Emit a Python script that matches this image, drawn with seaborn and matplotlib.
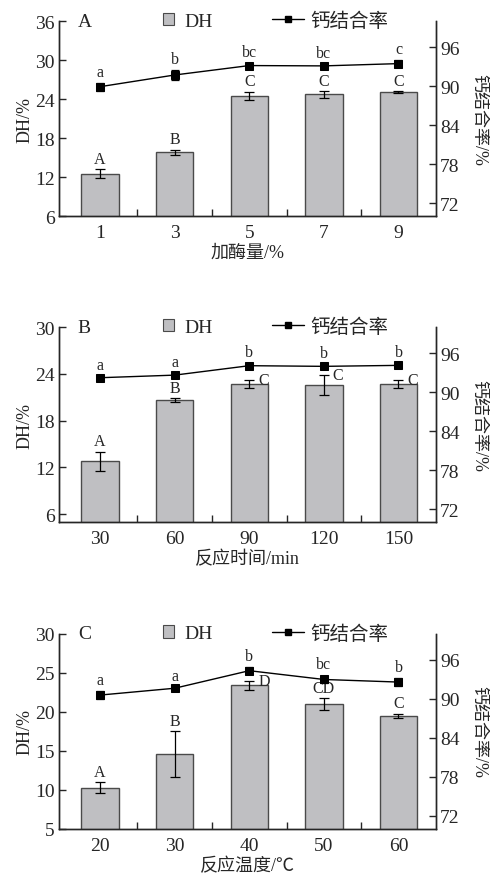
import matplotlib
matplotlib.use("Agg")
import matplotlib.pyplot as plt
import seaborn as sns
import pandas as pd
from matplotlib.lines import Line2D
from matplotlib.patches import Patch
from matplotlib.ticker import FixedLocator

# panel A: enzyme dosage
dose = ["1", "3", "5", "7", "9"]
dh_a = [12.5, 15.8, 24.5, 24.7, 25.1]
dh_a_err = [0.7, 0.4, 0.65, 0.55, 0.1]
ca_a = [89.9, 91.7, 93.15, 93.1, 93.45]
ca_a_err = [0.6, 0.8, 0.3, 0.2, 0.5]
up_a = ["A", "B", "C", "C", "C"]
low_a = ["a", "b", "bc", "bc", "c"]

# panel B: reaction time
time_min = ["30", "60", "90", "120", "150"]
dh_b = [12.8, 20.6, 22.7, 22.6, 22.7]
dh_b_err = [1.2, 0.25, 0.55, 1.3, 0.5]
ca_b = [92.2, 92.6, 94.05, 93.95, 94.1]
ca_b_err = [0.3, 0.3, 0.4, 0.3, 0.3]
up_b = ["A", "B", "C", "C", "C"]
low_b = ["a", "a", "b", "b", "b"]

# panel C: reaction temperature
temp = ["20", "30", "40", "50", "60"]
dh_c = [10.3, 14.6, 23.4, 21.0, 19.5]
dh_c_err = [0.7, 2.95, 0.55, 0.75, 0.3]
ca_c = [90.6, 91.65, 94.35, 93.0, 92.6]
ca_c_err = [0.6, 0.2, 0.5, 0.6, 0.6]
up_c = ["A", "B", "D", "CD", "C"]
low_c = ["a", "a", "b", "bc", "b"]

sns.set_style("ticks")
plt.rcParams["font.family"] = ["Liberation Serif", "Noto Sans CJK SC"]
plt.rcParams["axes.linewidth"] = 1.0

BAR = "#bfbfc2"
EDGE = "#4a4a4a"

panels = [
    ("A", dose, dh_a, dh_a_err, ca_a, ca_a_err, up_a, low_a, "加酶量/%",
     (6, 36), [6, 12, 18, 24, 30, 36], [0, 0, 0, 0, 0]),
    ("B", time_min, dh_b, dh_b_err, ca_b, ca_b_err, up_b, low_b, "反应时间/min",
     (5, 30), [6, 12, 18, 24, 30], [0, 0, 1, 1, 1]),
    ("C", temp, dh_c, dh_c_err, ca_c, ca_c_err, up_c, low_c, "反应温度/℃",
     (5, 30), [5, 10, 15, 20, 25, 30], [0, 0, 1, 0, 0]),
]
bottoms = [0.7528, 0.4043, 0.0547]

fig = plt.figure(figsize=(4.9, 8.78), dpi=100)

for (tag, cats, dh, dh_err, ca, ca_err, up, low, xlab, ylim, yticks, side), b in zip(panels, bottoms):
    ax = fig.add_axes([0.1204, b, 0.769, 0.2221])
    df = pd.DataFrame({"x": cats, "dh": dh})
    sns.barplot(data=df, x="x", y="dh", color=BAR, edgecolor=EDGE, linewidth=1.0,
                width=0.5, saturation=1, ax=ax)
    xs = list(range(len(cats)))
    ax.errorbar(xs, dh, yerr=dh_err, fmt="none", ecolor="black", elinewidth=0.9,
                capsize=3.5, capthick=0.9, zorder=3)
    ax.set_ylim(*ylim)
    ax.set_yticks(yticks)
    span = ylim[1] - ylim[0]
    for i in xs:
        top = dh[i] + dh_err[i]
        if side[i]:
            ax.text(i + 0.12, top, up[i], ha="left", va="center", fontsize=11.5)
        else:
            ax.text(i, top + span * 0.012, up[i], ha="center", va="bottom", fontsize=11.5)

    ax2 = ax.twinx()
    dl = pd.DataFrame({"x": cats, "ca": ca})
    sns.pointplot(data=dl, x="x", y="ca", color="black", markers="s", markersize=6,
                  linewidth=1.0, ax=ax2)
    ax2.errorbar(xs, ca, yerr=ca_err, fmt="none", ecolor="black", elinewidth=0.9,
                 capsize=3, capthick=0.9, zorder=3)
    ax2.set_ylim(70, 100)
    ax2.set_yticks([72, 78, 84, 90, 96])
    for i in xs:
        ax2.text(i, ca[i] + ca_err[i] + 0.5, low[i], ha="center", va="bottom", fontsize=11.5)

    for a in (ax, ax2):
        a.set_xlim(-0.55, 4.5)
        a.spines["top"].set_visible(False)
    ax2.spines["right"].set_visible(True)

    ax.set_xticks(xs)
    ax.set_xticklabels(cats)
    ax.xaxis.set_minor_locator(FixedLocator([0.5, 1.5, 2.5, 3.5]))
    ax.tick_params(axis="x", which="major", length=0, labelsize=14, pad=6)
    ax.tick_params(axis="x", which="minor", direction="in", length=5, width=1)
    ax.tick_params(axis="y", direction="in", length=5, width=1, labelsize=14, pad=3)
    ax2.tick_params(axis="y", direction="in", length=5, width=1, labelsize=14, pad=3)
    ax.set_xlabel(xlab, fontsize=13, labelpad=2)
    ax.set_ylabel("DH/%", fontsize=13, labelpad=1)
    ax2.set_ylabel("钙结合率/%", fontsize=13, rotation=-90, labelpad=20)

    ax.text(0.05, 1.0, tag, transform=ax.transAxes, ha="left", va="center", fontsize=14)
    leg1 = ax2.legend([Patch(facecolor=BAR, edgecolor=EDGE, linewidth=0.8)], ["DH"],
                      loc="center left", bbox_to_anchor=(0.275, 1.0), frameon=False,
                      fontsize=14, handlelength=0.6, handleheight=0.6, handletextpad=0.5,
                      borderpad=0, borderaxespad=0)
    ax2.add_artist(leg1)
    ax2.legend([Line2D([0], [0], color="black", lw=1, marker="s", markersize=5)], ["钙结合率"],
               loc="center left", bbox_to_anchor=(0.565, 1.0), frameon=False,
               fontsize=14, handlelength=1.65, handletextpad=0.3, borderpad=0, borderaxespad=0)

fig.savefig("out.png", dpi=100)
